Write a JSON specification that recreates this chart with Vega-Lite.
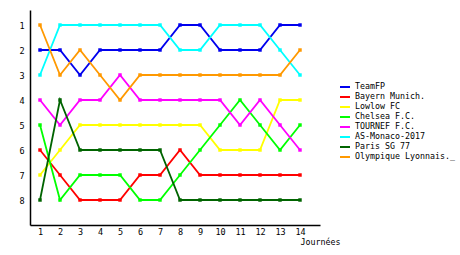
{
  "$schema": "https://vega.github.io/schema/vega-lite/v6.json",
  "width": 290,
  "height": 215,
  "autosize": "none",
  "padding": {"left": 30, "top": 10, "right": 140, "bottom": 30},
  "background": "white",
  "config": {"view": {"stroke": null}, "font": "DejaVu Sans Mono"},
  "data": {"values": [
    {"team":"TeamFP","day":1,"rank":2},{"team":"TeamFP","day":2,"rank":2},{"team":"TeamFP","day":3,"rank":3},{"team":"TeamFP","day":4,"rank":2},{"team":"TeamFP","day":5,"rank":2},{"team":"TeamFP","day":6,"rank":2},{"team":"TeamFP","day":7,"rank":2},{"team":"TeamFP","day":8,"rank":1},{"team":"TeamFP","day":9,"rank":1},{"team":"TeamFP","day":10,"rank":2},{"team":"TeamFP","day":11,"rank":2},{"team":"TeamFP","day":12,"rank":2},{"team":"TeamFP","day":13,"rank":1},{"team":"TeamFP","day":14,"rank":1},
    {"team":"Bayern Munich.","day":1,"rank":6},{"team":"Bayern Munich.","day":2,"rank":7},{"team":"Bayern Munich.","day":3,"rank":8},{"team":"Bayern Munich.","day":4,"rank":8},{"team":"Bayern Munich.","day":5,"rank":8},{"team":"Bayern Munich.","day":6,"rank":7},{"team":"Bayern Munich.","day":7,"rank":7},{"team":"Bayern Munich.","day":8,"rank":6},{"team":"Bayern Munich.","day":9,"rank":7},{"team":"Bayern Munich.","day":10,"rank":7},{"team":"Bayern Munich.","day":11,"rank":7},{"team":"Bayern Munich.","day":12,"rank":7},{"team":"Bayern Munich.","day":13,"rank":7},{"team":"Bayern Munich.","day":14,"rank":7},
    {"team":"Lowlow FC","day":1,"rank":7},{"team":"Lowlow FC","day":2,"rank":6},{"team":"Lowlow FC","day":3,"rank":5},{"team":"Lowlow FC","day":4,"rank":5},{"team":"Lowlow FC","day":5,"rank":5},{"team":"Lowlow FC","day":6,"rank":5},{"team":"Lowlow FC","day":7,"rank":5},{"team":"Lowlow FC","day":8,"rank":5},{"team":"Lowlow FC","day":9,"rank":5},{"team":"Lowlow FC","day":10,"rank":6},{"team":"Lowlow FC","day":11,"rank":6},{"team":"Lowlow FC","day":12,"rank":6},{"team":"Lowlow FC","day":13,"rank":4},{"team":"Lowlow FC","day":14,"rank":4},
    {"team":"Chelsea F.C.","day":1,"rank":5},{"team":"Chelsea F.C.","day":2,"rank":8},{"team":"Chelsea F.C.","day":3,"rank":7},{"team":"Chelsea F.C.","day":4,"rank":7},{"team":"Chelsea F.C.","day":5,"rank":7},{"team":"Chelsea F.C.","day":6,"rank":8},{"team":"Chelsea F.C.","day":7,"rank":8},{"team":"Chelsea F.C.","day":8,"rank":7},{"team":"Chelsea F.C.","day":9,"rank":6},{"team":"Chelsea F.C.","day":10,"rank":5},{"team":"Chelsea F.C.","day":11,"rank":4},{"team":"Chelsea F.C.","day":12,"rank":5},{"team":"Chelsea F.C.","day":13,"rank":6},{"team":"Chelsea F.C.","day":14,"rank":5},
    {"team":"TOURNEF F.C.","day":1,"rank":4},{"team":"TOURNEF F.C.","day":2,"rank":5},{"team":"TOURNEF F.C.","day":3,"rank":4},{"team":"TOURNEF F.C.","day":4,"rank":4},{"team":"TOURNEF F.C.","day":5,"rank":3},{"team":"TOURNEF F.C.","day":6,"rank":4},{"team":"TOURNEF F.C.","day":7,"rank":4},{"team":"TOURNEF F.C.","day":8,"rank":4},{"team":"TOURNEF F.C.","day":9,"rank":4},{"team":"TOURNEF F.C.","day":10,"rank":4},{"team":"TOURNEF F.C.","day":11,"rank":5},{"team":"TOURNEF F.C.","day":12,"rank":4},{"team":"TOURNEF F.C.","day":13,"rank":5},{"team":"TOURNEF F.C.","day":14,"rank":6},
    {"team":"AS-Monaco-2017","day":1,"rank":3},{"team":"AS-Monaco-2017","day":2,"rank":1},{"team":"AS-Monaco-2017","day":3,"rank":1},{"team":"AS-Monaco-2017","day":4,"rank":1},{"team":"AS-Monaco-2017","day":5,"rank":1},{"team":"AS-Monaco-2017","day":6,"rank":1},{"team":"AS-Monaco-2017","day":7,"rank":1},{"team":"AS-Monaco-2017","day":8,"rank":2},{"team":"AS-Monaco-2017","day":9,"rank":2},{"team":"AS-Monaco-2017","day":10,"rank":1},{"team":"AS-Monaco-2017","day":11,"rank":1},{"team":"AS-Monaco-2017","day":12,"rank":1},{"team":"AS-Monaco-2017","day":13,"rank":2},{"team":"AS-Monaco-2017","day":14,"rank":3},
    {"team":"Paris SG 77","day":1,"rank":8},{"team":"Paris SG 77","day":2,"rank":4},{"team":"Paris SG 77","day":3,"rank":6},{"team":"Paris SG 77","day":4,"rank":6},{"team":"Paris SG 77","day":5,"rank":6},{"team":"Paris SG 77","day":6,"rank":6},{"team":"Paris SG 77","day":7,"rank":6},{"team":"Paris SG 77","day":8,"rank":8},{"team":"Paris SG 77","day":9,"rank":8},{"team":"Paris SG 77","day":10,"rank":8},{"team":"Paris SG 77","day":11,"rank":8},{"team":"Paris SG 77","day":12,"rank":8},{"team":"Paris SG 77","day":13,"rank":8},{"team":"Paris SG 77","day":14,"rank":8},
    {"team":"Olympique Lyonnais._","day":1,"rank":1},{"team":"Olympique Lyonnais._","day":2,"rank":3},{"team":"Olympique Lyonnais._","day":3,"rank":2},{"team":"Olympique Lyonnais._","day":4,"rank":3},{"team":"Olympique Lyonnais._","day":5,"rank":4},{"team":"Olympique Lyonnais._","day":6,"rank":3},{"team":"Olympique Lyonnais._","day":7,"rank":3},{"team":"Olympique Lyonnais._","day":8,"rank":3},{"team":"Olympique Lyonnais._","day":9,"rank":3},{"team":"Olympique Lyonnais._","day":10,"rank":3},{"team":"Olympique Lyonnais._","day":11,"rank":3},{"team":"Olympique Lyonnais._","day":12,"rank":3},{"team":"Olympique Lyonnais._","day":13,"rank":3},{"team":"Olympique Lyonnais._","day":14,"rank":2}
  ]},
  "encoding": {
    "x": {"field": "day", "type": "quantitative",
      "scale": {"domain": [0.5, 15], "nice": false, "zero": false},
      "axis": {"values": [1,2,3,4,5,6,7,8,9,10,11,12,13,14], "ticks": false, "grid": false,
        "domainColor": "black", "domainWidth": 1.5, "labelFont": "DejaVu Sans Mono", "labelFontSize": 8.5, "labelColor": "black", "labelPadding": 2,
        "title": "Journées", "titleFont": "DejaVu Sans Mono", "titleFontSize": 8.3, "titleFontWeight": "normal", "titleColor": "black",
        "titleAlign": "left", "titleAnchor": null, "titleX": 270, "titleY": 17, "titleBaseline": "middle"}},
    "y": {"field": "rank", "type": "quantitative",
      "scale": {"domain": [0.4, 9], "reverse": true, "nice": false, "zero": false},
      "axis": {"values": [1,2,3,4,5,6,7,8], "ticks": false, "grid": false, "title": null,
        "domainColor": "black", "domainWidth": 1.5, "labelFont": "DejaVu Sans Mono", "labelFontSize": 8.5, "labelColor": "black", "labelPadding": 6}},
    "color": {"field": "team", "type": "nominal",
      "scale": {"domain": ["TeamFP","Bayern Munich.","Lowlow FC","Chelsea F.C.","TOURNEF F.C.","AS-Monaco-2017","Paris SG 77","Olympique Lyonnais._"],
        "range": ["#0000ee","#ff0000","#ffff00","#00ff00","#ff00ff","#00ffff","#006400","#ff9900"]},
      "legend": {"title": null, "orient": "none", "legendX": 310, "legendY": 72, "symbolType": "M-1.25,0H1.25", "symbolSize": 64, "symbolStrokeWidth": 2,
        "labelFont": "DejaVu Sans Mono", "labelFontSize": 8.3, "labelColor": "black", "rowPadding": 1, "labelOffset": 5, "padding": 0, "symbolOffset": 0}}
  },
  "layer": [
    {"mark": {"type": "line", "strokeWidth": 1.8}},
    {"mark": {"type": "point", "shape": "square", "filled": true, "size": 12, "opacity": 1}}
  ]
}
